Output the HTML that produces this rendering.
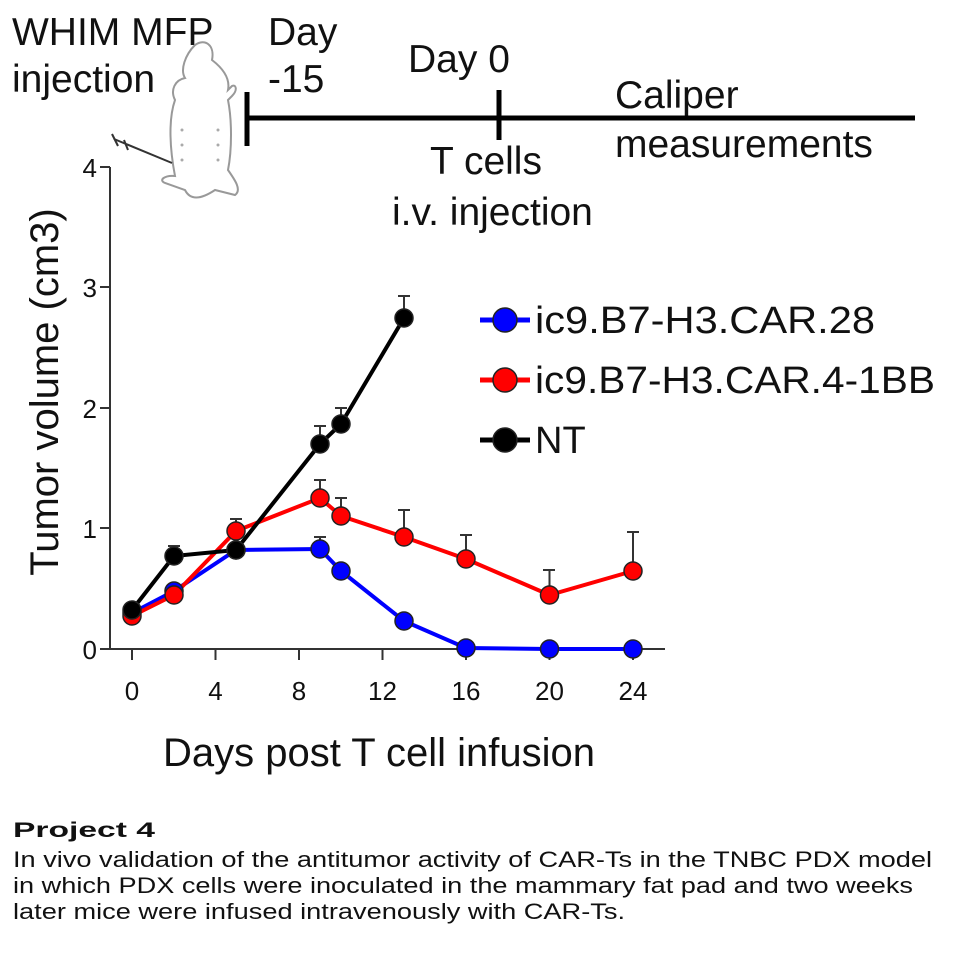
<!DOCTYPE html>
<html><head><meta charset="utf-8"><style>
html,body{margin:0;padding:0;background:#fff;width:970px;height:970px;overflow:hidden}
svg text{font-family:"Liberation Sans",Arial,sans-serif;fill:#111}
</style></head><body>
<svg width="970" height="970" viewBox="0 0 970 970" xmlns="http://www.w3.org/2000/svg">
<text x="12" y="45" font-size="39">WHIM MFP</text>
<text x="12" y="92" font-size="39">injection</text>
<text x="268" y="45" font-size="39">Day</text>
<text x="268" y="92" font-size="39">-15</text>
<text x="408" y="72" font-size="39">Day 0</text>
<text x="615" y="108" font-size="39">Caliper</text>
<text x="615" y="157" font-size="39">measurements</text>
<text x="430" y="174" font-size="39">T cells</text>
<text x="392" y="225" font-size="39">i.v. injection</text>
<line x1="247" y1="118" x2="915" y2="118" stroke="#000" stroke-width="5"/>
<line x1="247" y1="92" x2="247" y2="146" stroke="#000" stroke-width="5"/>
<line x1="499" y1="90" x2="499" y2="140" stroke="#000" stroke-width="5"/>
<g fill="none" stroke="#999" stroke-width="2">
<path d="M195 45 C205 38 215 45 212 60 C225 70 230 80 228 90 L232 86 C236 84 238 90 232 96 L228 100 C232 120 232 150 228 170 C235 180 242 190 235 195 L215 190 C200 200 190 200 185 190 L165 183 C158 180 165 175 175 176 C170 150 168 120 175 100 C170 90 175 80 185 78 C180 70 185 55 195 45 Z"/>
</g>
<g fill="#aaa"><circle cx="182" cy="130" r="1.5"/><circle cx="182" cy="145" r="1.5"/><circle cx="182" cy="160" r="1.5"/><circle cx="218" cy="130" r="1.5"/><circle cx="218" cy="145" r="1.5"/><circle cx="218" cy="160" r="1.5"/></g>
<line x1="114" y1="139" x2="172" y2="163" stroke="#333" stroke-width="2"/>
<line x1="112" y1="134" x2="118" y2="146" stroke="#333" stroke-width="2"/>
<line x1="124" y1="140" x2="128" y2="150" stroke="#333" stroke-width="2"/>
<g stroke="#333" stroke-width="2">
<line x1="110" y1="167" x2="110" y2="649"/>
<line x1="110" y1="649" x2="665" y2="649"/>
<line x1="100" y1="167" x2="110" y2="167"/><line x1="100" y1="287" x2="110" y2="287"/>
<line x1="100" y1="408" x2="110" y2="408"/><line x1="100" y1="528" x2="110" y2="528"/>
<line x1="100" y1="649" x2="110" y2="649"/>
<line x1="132" y1="649" x2="132" y2="660"/><line x1="215.5" y1="649" x2="215.5" y2="660"/>
<line x1="299" y1="649" x2="299" y2="660"/><line x1="382.5" y1="649" x2="382.5" y2="660"/>
<line x1="466" y1="649" x2="466" y2="660"/><line x1="549.5" y1="649" x2="549.5" y2="660"/>
<line x1="633" y1="649" x2="633" y2="660"/>
</g>
<g font-size="26" text-anchor="end">
<text x="97" y="177">4</text><text x="97" y="297">3</text><text x="97" y="418">2</text><text x="97" y="538">1</text><text x="97" y="659">0</text>
</g>
<g font-size="26" text-anchor="middle">
<text x="132" y="700">0</text><text x="215.5" y="700">4</text><text x="299" y="700">8</text><text x="382.5" y="700">12</text><text x="466" y="700">16</text><text x="549.5" y="700">20</text><text x="633" y="700">24</text>
</g>
<text transform="translate(58,392) rotate(-90)" font-size="40" text-anchor="middle">Tumor volume (cm3)</text>
<text x="379" y="766" font-size="40" text-anchor="middle">Days post T cell infusion</text>
<g stroke="#333" stroke-width="2">
<path d="M236 531V519M230 519h12 M320 498V480M314 480h12 M341 516V498M335 498h12 M404 537V510M398 510h12 M466 559V535M460 535h12 M549.5 595V570M543 570h12 M633 571V532M627 532h12"/>
<path d="M320 549V537M314 537h12"/>
<path d="M174 556V546M168 546h12 M320 444V426M314 426h12 M341 424V408M335 408h12 M404 318V296M398 296h12"/>
</g>
<g stroke-width="4" fill="none">
<polyline stroke="#0000ff" points="132,613 174,591 236,550 320,549 341,571 404,621 466,648 549.5,649 633,649"/>
<polyline stroke="#ff0000" points="132,616 174,595 236,531 320,498 341,516 404,537 466,559 549.5,595 633,571"/>
<polyline stroke="#000" points="132,610 174,556 236,550 320,444 341,424 404,318"/>
</g>
<g stroke="#222" stroke-width="1.5">
<g fill="#0000ff"><circle cx="132" cy="613" r="9"/><circle cx="174" cy="591" r="9"/><circle cx="236" cy="550" r="9"/><circle cx="320" cy="549" r="9"/><circle cx="341" cy="571" r="9"/><circle cx="404" cy="621" r="9"/><circle cx="466" cy="648" r="9"/><circle cx="549.5" cy="649" r="9"/><circle cx="633" cy="649" r="9"/></g>
<g fill="#ff0000"><circle cx="132" cy="616" r="9"/><circle cx="174" cy="595" r="9"/><circle cx="236" cy="531" r="9"/><circle cx="320" cy="498" r="9"/><circle cx="341" cy="516" r="9"/><circle cx="404" cy="537" r="9"/><circle cx="466" cy="559" r="9"/><circle cx="549.5" cy="595" r="9"/><circle cx="633" cy="571" r="9"/></g>
<g fill="#000"><circle cx="132" cy="610" r="9"/><circle cx="174" cy="556" r="9"/><circle cx="236" cy="550" r="9"/><circle cx="320" cy="444" r="9"/><circle cx="341" cy="424" r="9"/><circle cx="404" cy="318" r="9"/></g>
</g>
<g stroke-width="5">
<line x1="480" y1="320" x2="530" y2="320" stroke="#0000ff"/>
<line x1="480" y1="380" x2="530" y2="380" stroke="#ff0000"/>
<line x1="480" y1="440" x2="530" y2="440" stroke="#000"/>
</g>
<g stroke="#222" stroke-width="1.5">
<circle cx="505" cy="320" r="12" fill="#0000ff"/>
<circle cx="505" cy="380" r="12" fill="#ff0000"/>
<circle cx="505" cy="440" r="12" fill="#000"/>
</g>
<g font-size="38">
<text x="535" y="333" textLength="340" lengthAdjust="spacingAndGlyphs">ic9.B7-H3.CAR.28</text>
<text x="535" y="393" textLength="400" lengthAdjust="spacingAndGlyphs">ic9.B7-H3.CAR.4-1BB</text>
<text x="535" y="453">NT</text>
</g>
<text x="13" y="837" font-size="21" font-weight="bold" textLength="142" lengthAdjust="spacingAndGlyphs">Project 4</text>
<text x="13" y="867" font-size="22" textLength="919" lengthAdjust="spacingAndGlyphs">In vivo validation of the antitumor activity of CAR-Ts in the TNBC PDX model</text>
<text x="13" y="893" font-size="22" textLength="900" lengthAdjust="spacingAndGlyphs">in which PDX cells were inoculated in the mammary fat pad and two weeks</text>
<text x="13" y="919" font-size="22" textLength="612" lengthAdjust="spacingAndGlyphs">later mice were infused intravenously with CAR-Ts.</text>
</svg>
</body></html>
